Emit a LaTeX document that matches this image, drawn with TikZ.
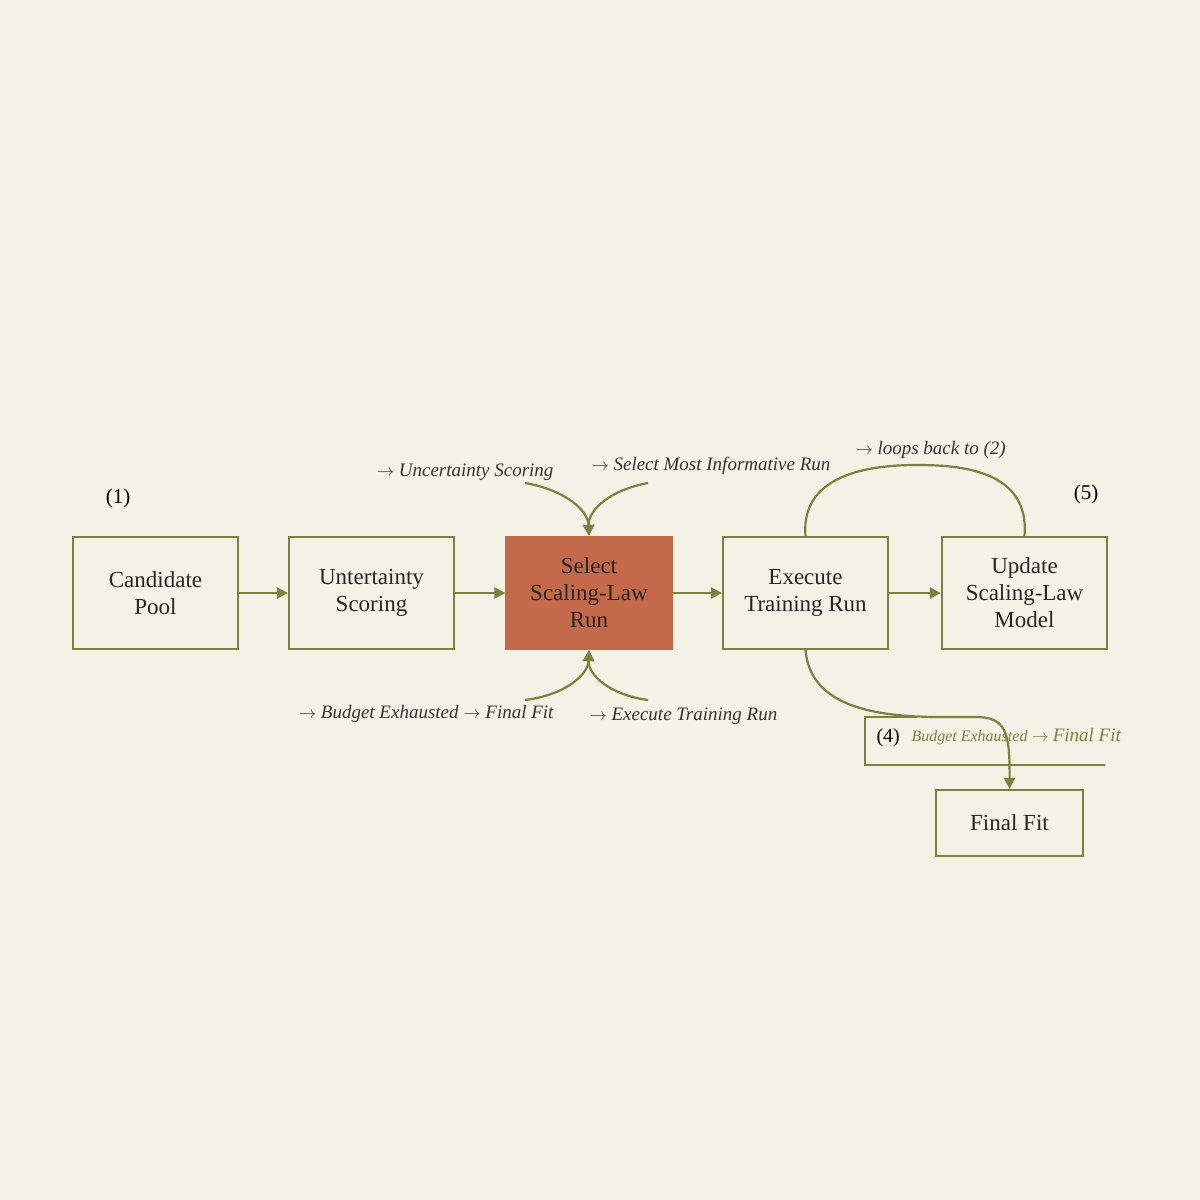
\documentclass[tikz,border=0pt]{standalone}
\usepackage{fontspec}
\setmainfont{Liberation Serif}
\usetikzlibrary{arrows.meta}
\definecolor{bg}{HTML}{F4F1E6}
\definecolor{olive}{HTML}{7F8040}
\definecolor{rust}{HTML}{C4694A}
\tikzset{
 box/.style={draw=olive,line width=2.2pt,minimum width=165pt,minimum height=112pt,align=center,font=\fontsize{23}{27}\selectfont,text=black!85},
 con/.style={draw=olive,line width=2.2pt},
 arr/.style={con,-{Triangle[length=11pt,width=11pt]}},
 lab/.style={font=\itshape\fontsize{19}{22}\selectfont,text=black!80}
}
\begin{document}
\begin{tikzpicture}[x=1pt,y=-1pt]
\fill[bg] (0,0) rectangle (1200,1200);
\useasboundingbox (0,0) rectangle (1200,1200);
\node[box] (cp) at (155.5,593) {Candidate\\Pool};
\node[box] (us) at (371.5,593) {Untertainty\\Scoring};
\node[box,fill=rust,draw=rust] (ss) at (589,593) {Select\\Scaling-Law\\Run};
\node[box] (ex) at (805.5,593) {Execute\\Training Run};
\node[box] (up) at (1024.5,593) {Update\\Scaling-Law\\Model};
\node[box,minimum width=147pt,minimum height=66pt] (ff) at (1009.5,823) {Final Fit};
\draw[arr] (cp) -- (us);
\draw[arr] (us) -- (ss);
\draw[arr] (ss) -- (ex);
\draw[arr] (ex) -- (up);
\node[lab,anchor=south east] (l1) at (557,484) {$\rightarrow$ Uncertainty Scoring};
\node[lab,anchor=south west] (l2) at (588,478) {$\rightarrow$ Select Most Informative Run};
\node[lab,anchor=north east] (l3) at (557,702) {$\rightarrow$ Budget Exhausted $\rightarrow$ Final Fit};
\node[lab,anchor=north west] (l4) at (586,704) {$\rightarrow$ Execute Training Run};
\node[lab,anchor=south west] (l5) at (852,462) {$\rightarrow$ loops back to (2)};
\node[font=\fontsize{21}{24}\selectfont] (n1) at (118,498) {(1)};
\node[font=\fontsize{21}{24}\selectfont] (n5) at (1086,494) {(5)};
\coordinate (a1) at (525,483);
\coordinate (a2) at (648,483);
\coordinate (b1) at (525,700);
\coordinate (b2) at (648,700);
\draw[arr] (a1) .. controls (565,490) and (588,510) .. (ss.north);
\draw[arr] (a2) .. controls (610,490) and (588,510) .. (ss.north);
\draw[arr] (b1) .. controls (565,695) and (588,675) .. (ss.south);
\draw[arr] (b2) .. controls (610,695) and (588,675) .. (ss.south);
\draw[con] (ex.north) .. controls (800,470) and (880,465) .. (917,465) .. controls (960,465) and (1030,470) .. (up.north);
\coordinate (k1) at (917,717);
\coordinate (k2) at (865,717);
\coordinate (k3) at (865,765);
\coordinate (k4) at (1105,765);
\draw[con] (k1) -- (k2) -- (k3) -- (k4);
\draw[arr] (ex.south) .. controls (810,700) and (860,717) .. (940,717) -- (975,717) .. controls (1005,717) and (1010,730) .. (ff.north);
\node[font=\fontsize{20}{24}\selectfont,anchor=west] (n4) at (873,738) {(4)};
\node[font=\itshape\fontsize{16}{20}\selectfont,text=olive,anchor=west] (l6) at (908,737) {Budget Exhausted $\rightarrow$ \fontsize{19}{22}\selectfont Final Fit};
\end{tikzpicture}
\end{document}
